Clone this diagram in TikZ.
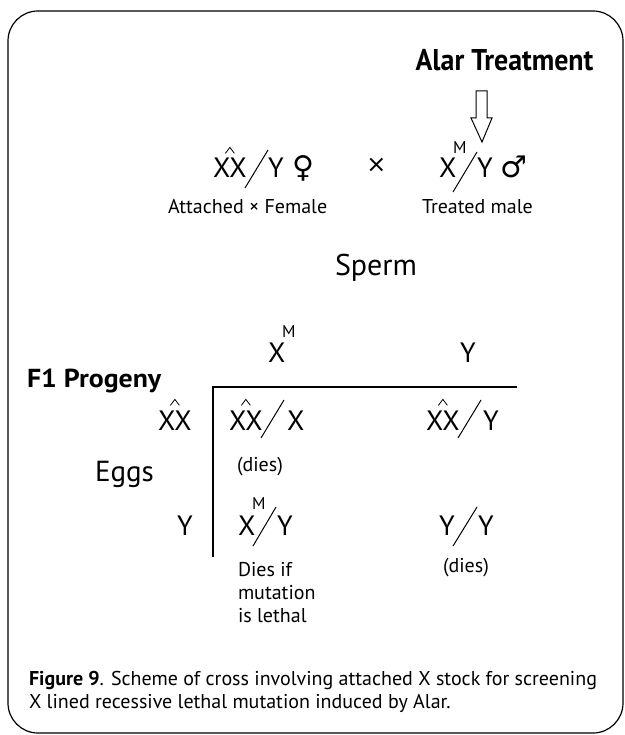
\documentclass[tikz,border=0pt]{standalone}
\usepackage{fontspec}
\usetikzlibrary{calc}
\setmainfont{PT Sans}
\newfontfamily\symfont{DejaVu Sans}
\begin{document}
\begin{tikzpicture}[x=1pt,y=-1pt,
  txt/.style={inner sep=0pt,outer sep=0pt,anchor=base west},
  big/.style={txt,font=\fontsize{28}{32}\selectfont},
  sup/.style={txt,font=\fontsize{17}{20}\selectfont},
  small/.style={txt,font=\fontsize{20}{24}\selectfont},
  slashline/.style={line width=1pt},
  hatline/.style={line width=0.8pt},
  rule/.style={line width=1.3pt}]
\useasboundingbox (0,0) rectangle (624,735);
\draw[line width=1.2pt,rounded corners=30pt] (8,11) rectangle (623,733);
% Alar treatment
\node[inner sep=0pt,anchor=base,font=\fontsize{30}{32}\selectfont\bfseries] (alar) at (504.5,71) {\scalebox{0.93}[1]{Alar Treatment}};
\coordinate (atip) at (482,142);
\draw[line width=1pt] (476,91) -- (487,91) -- (487,118) -- (492,118) -- (atip) -- (471,118) -- (476,118) -- cycle;
% female
\node[big] (fx) at (213,178) {XX};
\draw[hatline] ($(fx.north)+(-4.5,-5)$) -- ($(fx.north)+(0,-11)$) -- ($(fx.north)+(4.5,-5)$);
\node[big] (fy) at (268,178) {Y};
\draw[slashline] (245,188) -- (268,150);
\node[txt,font=\symfont\fontsize{30}{32}\selectfont] (fem) at (292,178) {♀};
\node[inner sep=0pt,anchor=center,font=\symfont\fontsize{24}{28}\selectfont] (cross) at (376.5,165) {×};
% male
\node[big] (mx) at (439,178) {X};
\node[sup] (mm) at (453,154) {M};
\draw[slashline] (453,192) -- (477,152);
\node[big] (my) at (477,178) {Y};
\node[txt,font=\symfont\fontsize{30}{32}\selectfont] (mal) at (500,178) {♂};
\node[small] (att) at (168,214) {Attached × Female};
\node[small] (trt) at (422,214) {Treated male};
\node[txt,font=\fontsize{30}{32}\selectfont] (sperm) at (335,275) {Sperm};
% header
\node[big] (hx) at (268,362) {X};
\node[sup] (hm) at (282,337) {M};
\node[big] (hy) at (460,362) {Y};
\node[txt,font=\fontsize{26}{28}\selectfont\bfseries] (f1) at (27,387) {\scalebox{1.07}[1]{F1 Progeny}};
\coordinate (corner) at (213,387);
\coordinate (hend) at (517,387);
\coordinate (vend) at (213,557);
\draw[rule] (hend) -- (corner) -- (vend);
% row 1
\node[big] (rx) at (158,430) {XX};
\draw[hatline] ($(rx.north)+(-4.5,-5)$) -- ($(rx.north)+(0,-11)$) -- ($(rx.north)+(4.5,-5)$);
\node[big] (c1a) at (229,430) {XX};
\draw[hatline] ($(c1a.north)+(-4.5,-5)$) -- ($(c1a.north)+(0,-11)$) -- ($(c1a.north)+(4.5,-5)$);
\draw[slashline] (261,438) -- (284,400);
\node[big] (c1b) at (287,430) {X};
\node[big] (c2a) at (426,430) {XX};
\draw[hatline] ($(c2a.north)+(-4.5,-5)$) -- ($(c2a.north)+(0,-11)$) -- ($(c2a.north)+(4.5,-5)$);
\draw[slashline] (458,438) -- (481,400);
\node[big] (c2b) at (483,430) {Y};
\node[small] (d1) at (237,471) {(dies)};
\node[txt,font=\fontsize{29}{32}\selectfont] (eggs) at (95,481) {Eggs};
% row 2
\node[big] (ry) at (177,535) {Y};
\node[big] (c3a) at (238,535) {X};
\node[sup] (c3m) at (252,509) {M};
\draw[slashline] (253,546) -- (276,507);
\node[big] (c3b) at (277,535) {Y};
\node[big] (c4a) at (439,535) {Y};
\draw[slashline] (453,546) -- (477,507);
\node[big] (c4b) at (478,535) {Y};
\node[small] (l1) at (238,576) {Dies if};
\node[small] (l2) at (238,599) {mutation};
\node[small] (l3) at (238,622) {is lethal};
\node[small] (d2) at (443,572) {(dies)};
% caption
\node[txt,font=\fontsize{20}{24}\selectfont] (cap1) at (29,685) {\textbf{Figure 9}. Scheme of cross involving attached X stock for screening};
\node[txt,font=\fontsize{20}{24}\selectfont] (cap2) at (29,708) {X lined recessive lethal mutation induced by Alar.};
\end{tikzpicture}
\end{document}
